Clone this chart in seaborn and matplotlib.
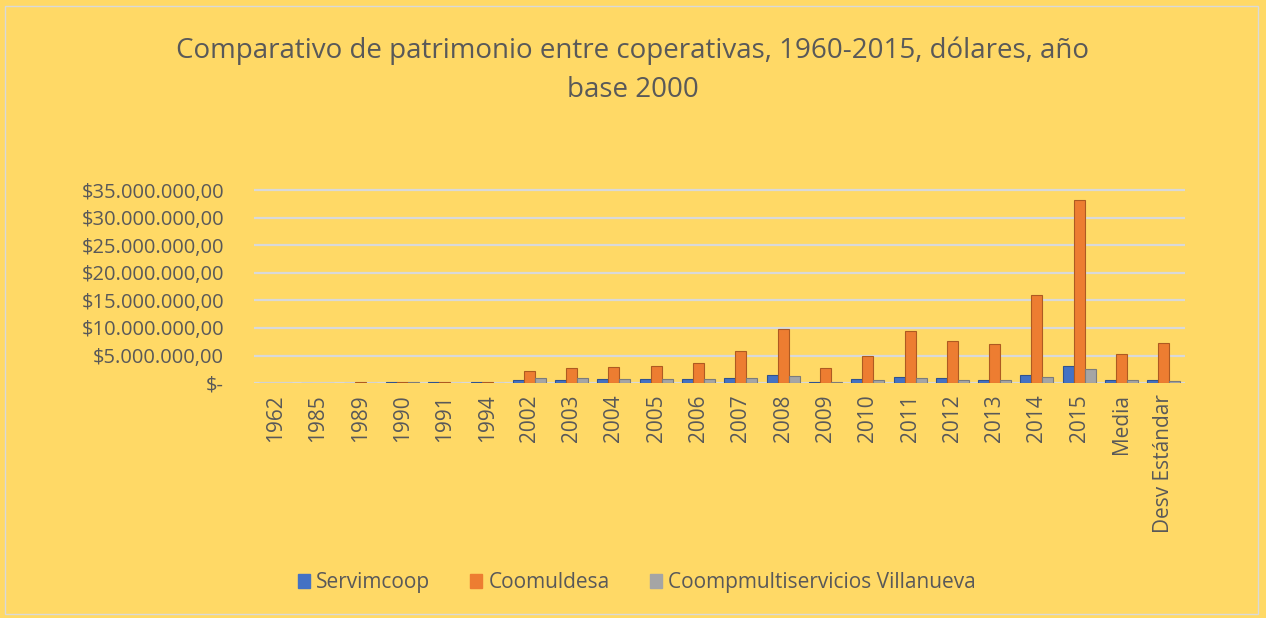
"""Comparativo de patrimonio entre cooperativas (barras agrupadas)."""

import matplotlib

matplotlib.use("Agg")
import matplotlib.pyplot as plt
import matplotlib.ticker as mticker
import pandas as pd
import seaborn as sns

categories = ["1962", "1985", "1989", "1990", "1991", "1994", "2002", "2003",
              "2004", "2005", "2006", "2007", "2008", "2009", "2010", "2011",
              "2012", "2013", "2014", "2015", "Media", "Desv Estándar"]

series_names = ["Servimcoop", "Coomuldesa", "Coompmultiservicios Villanueva"]

servimcoop = [0.05, 0.05, 0.1, 0.3, 0.25, 0.3, 0.6, 0.6, 0.7, 0.7, 0.7, 0.9,
              1.5, 0.3, 0.8, 1.2, 0.9, 0.6, 1.4, 3.1, 0.6, 0.5]
coomuldesa = [0.05, 0.1, 0.2, 0.2, 0.15, 0.15, 2.2, 2.7, 2.9, 3.2, 3.7, 5.8,
              9.9, 2.8, 5.0, 9.4, 7.6, 7.1, 16.0, 33.2, 5.3, 7.3]
villanueva = [0.05, 0.05, 0.1, 0.15, 0.1, 0.1, 0.9, 0.9, 0.8, 0.8, 0.8, 0.9,
              1.3, 0.3, 0.6, 0.9, 0.6, 0.5, 1.1, 2.5, 0.5, 0.4]

colors = ["#4472C4", "#ED7D31", "#A5A5A5"]
edges = ["#2F528F", "#AE5A21", "#7B7B7B"]
BG = "#FFD966"
TEXT = "#595959"

rows = []
for name, vals in zip(series_names, [servimcoop, coomuldesa, villanueva]):
    for cat, v in zip(categories, vals):
        rows.append({"Año": cat, "Serie": name, "Valor": v * 1e6})
df = pd.DataFrame(rows)

sns.set_style("white")
plt.rcParams["font.family"] = ["Open Sans", "DejaVu Sans"]

fig = plt.figure(figsize=(12.66, 6.18), dpi=100, facecolor=BG)
ax = fig.add_axes([0.201, 0.380, 0.735, 0.316])
ax.set_facecolor(BG)

sns.barplot(data=df, x="Año", y="Valor", hue="Serie", order=categories,
            hue_order=series_names, palette=colors, width=0.78,
            saturation=1, ax=ax, legend=False)

# darker outline to hint the 3-D look of the original bars
for cont, ec in zip(ax.containers, edges):
    for bar in cont:
        bar.set_edgecolor(ec)
        bar.set_linewidth(0.8)

ax.set_ylim(0, 35.4e6)
ax.set_xlim(-0.5, len(categories) - 0.5)
ax.yaxis.set_major_locator(mticker.FixedLocator([i * 5e6 for i in range(8)]))


def money(v, pos):
    if v == 0:
        return "$-"
    s = f"{v:,.2f}".replace(",", "X").replace(".", ",").replace("X", ".")
    return "$" + s


ax.yaxis.set_major_formatter(mticker.FuncFormatter(money))
ax.grid(axis="y", color="#D9D9D9", linewidth=1.6)
ax.set_axisbelow(True)
for sp in ax.spines.values():
    sp.set_visible(False)
ax.tick_params(axis="y", labelsize=14.5, labelcolor=TEXT, length=0, pad=22)
ax.tick_params(axis="x", labelsize=15, labelcolor=TEXT, length=0, rotation=90, pad=8)
ax.set_xlabel("")
ax.set_ylabel("")

fig.text(0.5, 0.918, "Comparativo de patrimonio entre coperativas, 1960-2015, dólares, año",
         ha="center", va="center", fontsize=20, color=TEXT)
fig.text(0.5, 0.855, "base 2000", ha="center", va="center", fontsize=20, color=TEXT)

handles = [plt.Rectangle((0, 0), 1, 1, color=c) for c in colors]
fig.legend(handles, series_names, loc="center", bbox_to_anchor=(0.503, 0.057),
           ncol=3, frameon=False, fontsize=15, labelcolor=TEXT,
           handlelength=0.6, handleheight=0.7, handletextpad=0.3, columnspacing=1.9)

# light frame around the chart area
fig.patches.append(plt.Rectangle((0.004, 0.006), 0.99, 0.985, transform=fig.transFigure,
                                 fill=False, edgecolor="#D9D9D9", linewidth=1))

fig.savefig("out.png", dpi=100, facecolor=BG)
plt.close(fig)
